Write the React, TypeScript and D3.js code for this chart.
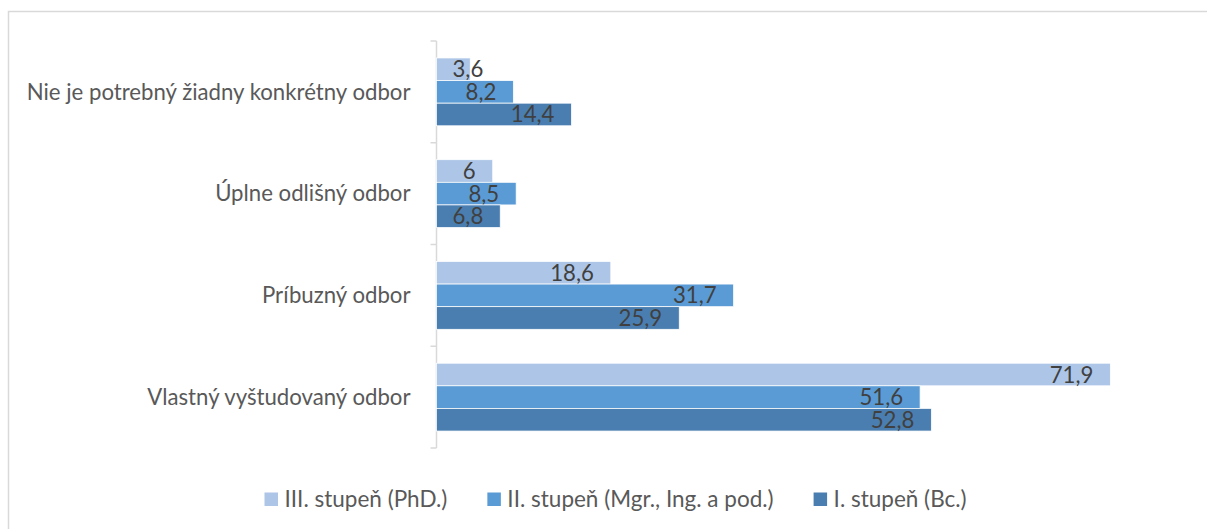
import React, { useEffect, useRef } from "react";
import * as d3 from "d3";

const categories = [
  "Nie je potrebný žiadny konkrétny odbor",
  "Úplne odlišný odbor",
  "Príbuzný odbor",
  "Vlastný vyštudovaný odbor",
];
const seriesNames = ["III. stupeň (PhD.)", "II. stupeň (Mgr., Ing. a pod.)", "I. stupeň (Bc.)"];
const phdValues = [3.6, 6, 18.6, 71.9];
const mgrValues = [8.2, 8.5, 31.7, 51.6];
const bcValues = [14.4, 6.8, 25.9, 52.8];
const seriesColors = ["#adc6e7", "#5b9bd5", "#4a7eb0"];

const W = 1207;
const H = 529;
const FONT = "Lato, 'Noto Sans', sans-serif";
const FS = 22.2;
const FS_LEGEND = 22.5;

export default function App() {
  const ref = useRef<SVGSVGElement | null>(null);

  useEffect(() => {
    const svg = d3.select(ref.current);
    svg.selectAll("*").remove();

    const seriesValues = [phdValues, mgrValues, bcValues];

    // chart border
    svg.append("rect")
      .attr("x", 8.5).attr("y", 11.5)
      .attr("width", W + 10).attr("height", H + 10)
      .attr("fill", "#fff").attr("stroke", "#d9d9d9").attr("stroke-width", 1.5);

    const x = d3.scaleLinear().domain([0, 80]).range([436.5, 436.5 + 80 * 9.372]);
    const y = d3.scaleBand<string>().domain(categories).range([41, 448]).paddingInner(0).paddingOuter(0);
    const yInner = d3.scaleBand<string>().domain(seriesNames).range([0, y.bandwidth()]).paddingInner(0).paddingOuter(0.75);

    // axis
    const axisG = svg.append("g");
    axisG.append("line")
      .attr("x1", x(0)).attr("x2", x(0))
      .attr("y1", y.range()[0]).attr("y2", y.range()[1])
      .attr("stroke", "#d9d9d9").attr("stroke-width", 1.5);
    const tickYs = categories.map((c) => y(c)!).concat([y.range()[1]]);
    axisG.selectAll("line.tick").data(tickYs).enter().append("line")
      .attr("class", "tick")
      .attr("x1", x(0) - 6).attr("x2", x(0))
      .attr("y1", (d) => d).attr("y2", (d) => d)
      .attr("stroke", "#d9d9d9").attr("stroke-width", 1.5);

    // category labels
    svg.append("g").selectAll("text").data(categories).enter().append("text")
      .attr("x", x(0) - 26)
      .attr("y", (d) => y(d)! + y.bandwidth() / 2)
      .attr("dy", "0.35em")
      .attr("text-anchor", "end")
      .attr("font-family", FONT).attr("font-size", FS)
      .attr("fill", "#595959")
      .text((d) => d);

    // bars
    seriesNames.forEach((s, si) => {
      const g = svg.append("g");
      const vals = seriesValues[si];
      g.selectAll("rect").data(vals).enter().append("rect")
        .attr("x", x(0))
        .attr("y", (_, i) => y(categories[i])! + yInner(s)!)
        .attr("width", (v) => x(v) - x(0))
        .attr("height", yInner.bandwidth())
        .attr("fill", seriesColors[si])
        .attr("stroke", "#fff").attr("stroke-width", 0.75);
      g.selectAll("text").data(vals).enter().append("text")
        .attr("y", (_, i) => y(categories[i])! + yInner(s)! + yInner.bandwidth() / 2)
        .attr("dy", "0.36em")
        .attr("font-family", FONT).attr("font-size", FS)
        .attr("fill", "#404040")
        .text((v) => String(v).replace(".", ","))
        .each(function (v) {
          const el = this as SVGTextElement;
          const w = el.getComputedTextLength();
          let end = x(v) - 17;
          const minStart = x(0) + 16;
          if (end - w < minStart) end = minStart + w;
          el.setAttribute("x", String(end - w));
        });
    });

    // legend
    const legendY = 499;
    const legend = svg.append("g");
    let cx = 264.5;
    seriesNames.forEach((s, si) => {
      legend.append("rect")
        .attr("x", cx).attr("y", legendY - 6.5)
        .attr("width", 13.5).attr("height", 13.5)
        .attr("fill", seriesColors[si]);
      const t = legend.append("text")
        .attr("x", cx + 20).attr("y", legendY)
        .attr("dy", "0.36em")
        .attr("font-family", FONT).attr("font-size", FS_LEGEND)
        .attr("fill", "#595959")
        .text(s);
      const w = (t.node() as SVGTextElement).getComputedTextLength();
      cx = cx + 20 + w + 40;
    });
  }, []);

  return (
    <svg
      ref={ref}
      width={W}
      height={H}
      style={{ position: "absolute", left: 0, top: 0, display: "block", background: "#fff" }}
    />
  );
}
